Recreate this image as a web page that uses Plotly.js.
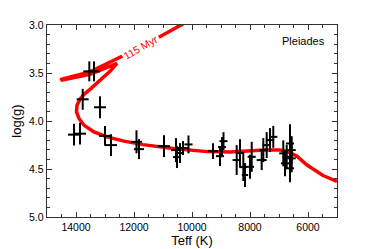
<!DOCTYPE html>
<html>
<head>
<meta charset="utf-8">
<script src="https://cdn.plot.ly/plotly-3.0.1.min.js"></script>
<style>html,body{margin:0;padding:0;background:#fff;}#plot{width:374px;height:249px;}</style>
</head>
<body>
<div id="plot"></div>
<script>
// Isochrone (115 Myr), Teff (K) and log(g)
const isoTeff = [5000, 5483, 6034, 6379, 6724, 6966, 7483, 8000, 8690, 9483, 10655, 11690, 12345, 12931, 13379, 13724, 13897, 13983, 13966, 13862, 13724, 13517, 13172, 12828, 12586, 13517, 14517, 14500, 13517, 12552, 11793, 11034, 10345, 9724];
const isoLogg = [4.630, 4.568, 4.459, 4.366, 4.314, 4.303, 4.303, 4.314, 4.324, 4.319, 4.286, 4.246, 4.210, 4.165, 4.113, 4.044, 3.974, 3.906, 3.836, 3.774, 3.722, 3.670, 3.576, 3.483, 3.400, 3.514, 3.576, 3.566, 3.488, 3.348, 3.234, 3.109, 2.995, 2.891];

// Pleiades stars
const starTeff = [13541, 13379, 13769, 13172, 14069, 13862, 13000, 12793, 11914, 11828, 10966, 10552, 10517, 10414, 10310, 10121, 9276, 9034, 8966, 8914, 8459, 8345, 8231, 8172, 8000, 7941, 7597, 7541, 7424, 7310, 7197, 6852, 6793, 6734, 6621, 6562, 6562, 6621];
const starLogg = [3.483, 3.483, 3.774, 3.857, 4.142, 4.132, 4.155, 4.251, 4.217, 4.293, 4.262, 4.303, 4.376, 4.334, 4.282, 4.244, 4.314, 4.366, 4.272, 4.210, 4.407, 4.334, 4.480, 4.563, 4.477, 4.373, 4.407, 4.303, 4.251, 4.199, 4.165, 4.337, 4.441, 4.373, 4.234, 4.303, 4.389, 4.493];
const starTeffErr = [207, 207, 207, 207, 207, 207, 207, 207, 190, 172, 207, 172, 140, 140, 172, 140, 172, 140, 140, 140, 140, 140, 140, 110, 140, 140, 172, 140, 140, 140, 140, 140, 140, 140, 140, 140, 140, 140];
const starLoggErr = [0.104, 0.104, 0.109, 0.114, 0.114, 0.114, 0.104, 0.114, 0.120, 0.104, 0.114, 0.125, 0.114, 0.104, 0.073, 0.093, 0.083, 0.104, 0.104, 0.093, 0.156, 0.145, 0.145, 0.125, 0.125, 0.156, 0.104, 0.125, 0.135, 0.125, 0.114, 0.135, 0.135, 0.125, 0.200, 0.145, 0.145, 0.145];

const xTicks = [14000, 12000, 10000, 8000, 6000];
const yTicks = [3.0, 3.5, 4.0, 4.5, 5.0];
const isoLabel = "115 Myr";
const clusterLabel = "Pleiades";

const font = "Liberation Sans, Arial, Helvetica, sans-serif";

const traces = [
  {
    x: isoTeff, y: isoLogg, type: 'scatter', mode: 'lines',
    line: {color: '#ff0000', width: 3.5}, hoverinfo: 'skip'
  },
  {
    x: starTeff, y: starLogg, type: 'scatter', mode: 'markers',
    marker: {size: 1, color: 'black'},
    error_x: {type: 'data', array: starTeffErr, color: 'black', thickness: 2, width: 0},
    error_y: {type: 'data', array: starLoggErr, color: 'black', thickness: 2, width: 0}
  }
];

const layout = {
  width: 374, height: 249,
  margin: {l: 47, r: 37, t: 25, b: 32},
  paper_bgcolor: 'white', plot_bgcolor: 'white',
  showlegend: false,
  font: {family: font, size: 10.5, color: 'black'},
  xaxis: {
    range: [15000, 5000], showgrid: false, zeroline: false,
    tickvals: xTicks, tickformat: 'd',
    ticks: 'inside', ticklen: 5, tickwidth: 1, tickcolor: '#333',
    minor: {dtick: 500, tick0: 0, ticks: 'inside', ticklen: 3, tickcolor: '#333', showgrid: false},
    showline: true, linecolor: '#333', linewidth: 1.3, mirror: 'ticks',
    tickfont: {size: 10.5, family: font},
    title: {text: 'Teff (K)', font: {size: 13, family: font}, standoff: 2}
  },
  yaxis: {
    range: [5.0, 3.0], showgrid: false, zeroline: false,
    tickvals: yTicks, tickformat: '.1f',
    ticks: 'inside', ticklen: 5, tickwidth: 1, tickcolor: '#333',
    minor: {dtick: 0.1, tick0: 0, ticks: 'inside', ticklen: 3, tickcolor: '#333', showgrid: false},
    showline: true, linecolor: '#333', linewidth: 1.3, mirror: 'ticks',
    tickfont: {size: 10.5, family: font},
    title: {text: 'log(g)', font: {size: 13, family: font}, standoff: 4}
  },
  annotations: [
    {
      x: 11759, y: 3.234, xref: 'x', yref: 'y', text: isoLabel, showarrow: false,
      textangle: -30, font: {color: '#ff0000', size: 10.5, family: font},
      bgcolor: 'white', borderpad: 1
    },
    {
      x: 0.966, y: 0.917, xref: 'paper', yref: 'paper', xanchor: 'right', yanchor: 'middle',
      text: clusterLabel, showarrow: false, font: {size: 11, family: font, color: 'black'}
    }
  ]
};

Plotly.newPlot('plot', traces, layout, {displayModeBar: false, staticPlot: true});
</script>
</body>
</html>
